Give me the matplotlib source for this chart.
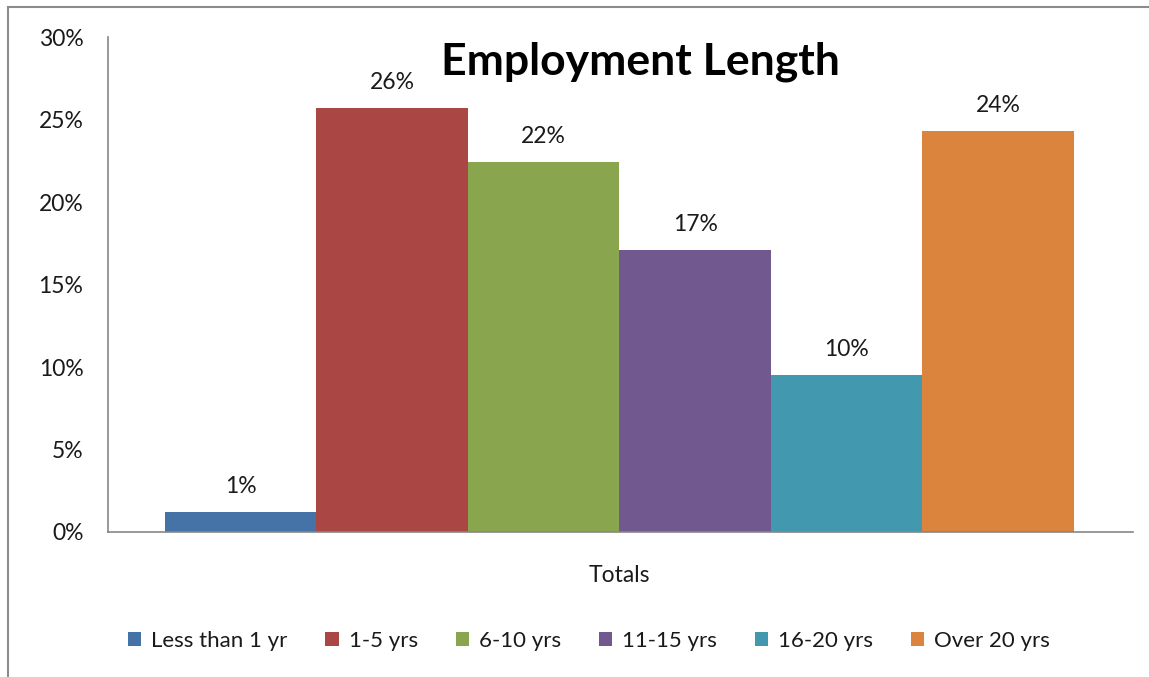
import matplotlib.pyplot as plt
from matplotlib.patches import Rectangle
from matplotlib.ticker import FuncFormatter

plt.rcParams['font.family'] = ['Lato', 'DejaVu Sans']

# data (percent of total)
categories = ["Less than 1 yr", "1-5 yrs", "6-10 yrs", "11-15 yrs", "16-20 yrs", "Over 20 yrs"]
values = [1.2, 25.7, 22.4, 17.1, 9.5, 24.3]
labels = ["1%", "26%", "22%", "17%", "10%", "24%"]
colors = ["#4572A7", "#AA4643", "#89A54E", "#71588F", "#4198AF", "#DB843D"]

fig = plt.figure(figsize=(11.49, 6.77), dpi=100)
ax = fig.add_axes([0.0944, 0.2142, 0.8916, 0.7311])

# outer chart frame (cut off at right / bottom in the original)
fig.patches.append(Rectangle((8 / 1149, -0.05), 1.2, 1 - 7 / 677 + 0.05,
                             transform=fig.transFigure, fill=False,
                             edgecolor="#8c8c8c", linewidth=1.5))

for i in range(len(categories)):
    ax.bar(i, values[i], width=1.0, color=colors[i], label=categories[i])
    ax.annotate(labels[i], (i, values[i]), xytext=(0, 11), textcoords="offset points",
                ha="center", va="bottom", fontsize=16.5, color="#1a1a1a")

ax.set_xlim(-0.873, 5.89)
ax.set_ylim(0, 30)
ax.set_yticks([0, 5, 10, 15, 20, 25, 30])
ax.yaxis.set_major_formatter(FuncFormatter(lambda v, p: "%d%%" % v))
ax.set_xticks([2.5])
ax.set_xticklabels(["Totals"])
ax.tick_params(axis="y", length=0, pad=18, labelsize=16.5, labelcolor="#1a1a1a")
ax.tick_params(axis="x", length=0, pad=24, labelsize=16.5, labelcolor="#1a1a1a")

for s in ["top", "right"]:
    ax.spines[s].set_visible(False)
for s in ["left", "bottom"]:
    ax.spines[s].set_color("#868686")
    ax.spines[s].set_linewidth(1.2)

fig.text(640 / 1149, 1 - 62 / 677, "Employment Length", ha="center", va="center",
         fontsize=32, fontweight="bold", color="black")

fig.legend(loc="center", bbox_to_anchor=(589 / 1149, 1 - 641 / 677), ncol=6,
           frameon=False, fontsize=16, handlelength=0.6, handleheight=0.6,
           handletextpad=0.45, columnspacing=1.7, labelcolor="#1a1a1a")

fig.savefig("out.png", dpi=100)
